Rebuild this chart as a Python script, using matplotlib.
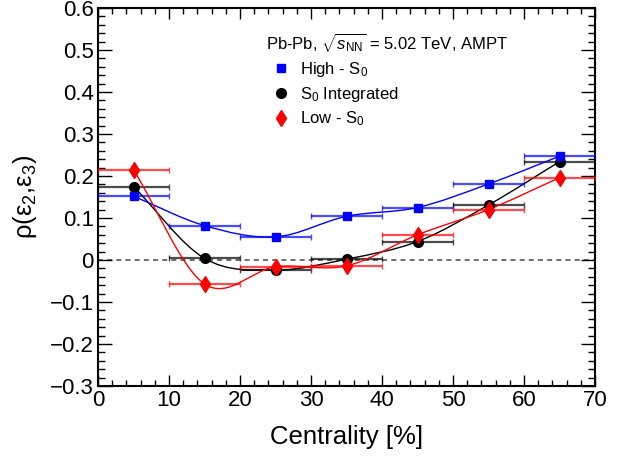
import numpy as np
import matplotlib
matplotlib.use("Agg")
import matplotlib.pyplot as plt
from matplotlib.path import Path
from matplotlib.patches import PathPatch
from matplotlib.lines import Line2D
from matplotlib.ticker import MultipleLocator, FixedLocator, FixedFormatter

plt.rcParams['font.family'] = ['Liberation Sans', 'DejaVu Sans']
plt.rcParams['mathtext.fontset'] = 'custom'
plt.rcParams['mathtext.rm'] = 'Liberation Sans'
plt.rcParams['mathtext.it'] = 'Liberation Sans:italic'
plt.rcParams['mathtext.bf'] = 'Liberation Sans:bold'

# ---- data ----
centrality = [5, 15, 25, 35, 45, 55, 65]
cent_err = [5, 5, 5, 5, 5, 5, 5]
high_s0 = [0.152, 0.082, 0.055, 0.104, 0.125, 0.181, 0.247]
integrated = [0.175, 0.004, -0.024, 0.002, 0.044, 0.131, 0.234]
low_s0 = [0.215, -0.057, -0.016, -0.014, 0.060, 0.120, 0.196]

y_ticks = [-0.3, -0.2, -0.1, 0.0, 0.1, 0.2, 0.3, 0.4, 0.5, 0.6]
y_tick_labels = ['\u22120.3', '\u22120.2', '\u22120.1', '0', '0.1', '0.2', '0.3', '0.4', '0.5', '0.6']
x_ticks = [0, 10, 20, 30, 40, 50, 60, 70]
x_tick_labels = ['0', '10', '20', '30', '40', '50', '60', '70']

series = [
    ("S$_{0}$ Integrated", integrated, 'black', 'o', 7),
    ("High - S$_{0}$", high_s0, 'blue', 's', 6),
    ("Low - S$_{0}$", low_s0, 'red', 'd', 8),
]
legend_order = [1, 0, 2]


def smooth_path(x, y):
    x = np.asarray(x, float)
    y = np.asarray(y, float)
    n = len(x)
    m = np.zeros(n)
    for i in range(n):
        if i == 0:
            m[i] = (y[1] - y[0]) / (x[1] - x[0])
        elif i == n - 1:
            m[i] = (y[-1] - y[-2]) / (x[-1] - x[-2])
        else:
            m[i] = (y[i + 1] - y[i - 1]) / (x[i + 1] - x[i - 1])
    verts = [(x[0], y[0])]
    codes = [Path.MOVETO]
    for i in range(n - 1):
        h = x[i + 1] - x[i]
        verts += [(x[i] + h / 3, y[i] + m[i] * h / 3),
                  (x[i + 1] - h / 3, y[i + 1] - m[i + 1] * h / 3),
                  (x[i + 1], y[i + 1])]
        codes += [Path.CURVE4] * 3
    return Path(verts, codes)


fig = plt.figure(figsize=(6.33, 4.57), dpi=100)
ax = fig.add_axes([98 / 633, 1 - 386 / 457, (595 - 98) / 633, (386 - 8) / 457])
ax.set_xlim(0, 70)
ax.set_ylim(-0.3, 0.6)

ax.axhline(0, color='#555555', lw=1.2, ls=(0, (3, 2.5)), zorder=1)

handles = []
for i, (label, vals, col, mk, ms) in enumerate(series):
    ax.errorbar(centrality, vals, xerr=cent_err, fmt='none', ecolor=col,
                elinewidth=1.6, capsize=2, capthick=1.0, alpha=0.7, zorder=2 + i)
    ax.add_patch(PathPatch(smooth_path(centrality, vals), facecolor='none',
                           edgecolor=col, lw=1.0, zorder=2 + i))
    ax.plot(centrality, vals, ls='none', marker=mk, ms=ms, color=col,
            mec=col, zorder=5 + i)
    handles.append(Line2D([], [], ls='none', marker=mk, ms=ms, color=col))

leg = ax.legend([handles[j] for j in legend_order],
                [series[j][0] for j in legend_order],
                loc='upper left', bbox_to_anchor=((266 - 98) / 497, 1 - (31 - 8) / 378),
                frameon=False, fontsize=12, handlelength=1.8, handletextpad=0.25,
                labelspacing=0.35, borderpad=0, borderaxespad=0,
                title="Pb-Pb, $\\sqrt{s_{\\mathrm{NN}}}$ = 5.02 TeV, AMPT",
                title_fontsize=12, alignment='left')

ax.xaxis.set_major_locator(FixedLocator(x_ticks))
ax.xaxis.set_major_formatter(FixedFormatter(x_tick_labels))
ax.xaxis.set_minor_locator(MultipleLocator(2))
ax.yaxis.set_major_locator(FixedLocator(y_ticks))
ax.yaxis.set_major_formatter(FixedFormatter(y_tick_labels))
ax.yaxis.set_minor_locator(MultipleLocator(0.02))

ax.tick_params(axis='both', which='both', direction='in', top=True, right=True,
               labelsize=16, width=1.0, colors='black')
ax.tick_params(axis='x', which='major', length=8, pad=3)
ax.tick_params(axis='x', which='minor', length=4)
ax.tick_params(axis='y', which='major', length=10, pad=3)
ax.tick_params(axis='y', which='minor', length=5)
for s in ax.spines.values():
    s.set_linewidth(1.5)

ax.set_xlabel("Centrality [%]", fontsize=18.5)
ax.xaxis.set_label_coords(0.5, -0.103)
ax.set_ylabel("ρ(ε$_{2}$,ε$_{3}$)", fontsize=18.5)
ax.yaxis.set_label_coords(-0.119, 0.5)

fig.savefig("out.png", dpi=100)
